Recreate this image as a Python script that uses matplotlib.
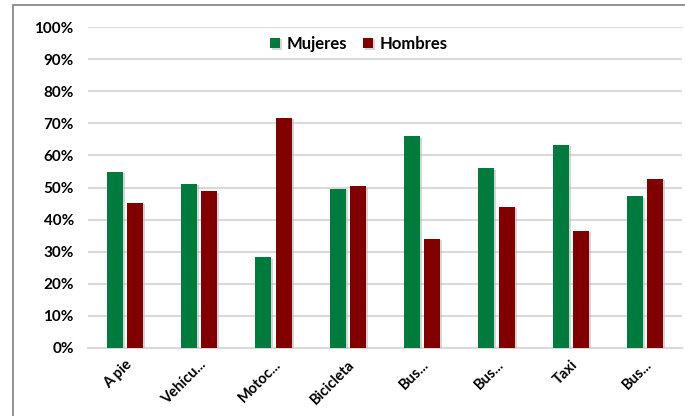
import numpy as np
import matplotlib
matplotlib.use("Agg")
import matplotlib.pyplot as plt
import matplotlib.patheffects as pe
from matplotlib.patches import Rectangle
from matplotlib.ticker import PercentFormatter

categorias = ["A pie", "Vehícu...", "Motoc...", "Bicicleta", "Bus...", "Bus...", "Taxi", "Bus..."]
mujeres = [54.8, 51.2, 28.3, 49.6, 66.0, 56.0, 63.4, 47.2]
hombres = [45.2, 48.8, 71.7, 50.4, 34.0, 44.0, 36.6, 52.8]

verde = "#007A3D"
rojo = "#800000"

plt.rcParams["font.family"] = ["Lato", "DejaVu Sans"]
plt.rcParams["font.weight"] = "bold"

fig = plt.figure(figsize=(6.85, 4.16), dpi=100)
ax = fig.add_axes([0.128, 0.1635, 0.868, 0.7715])

# marco exterior del grafico
fig.patches.append(Rectangle((0.019, -0.1), 1.2, 1.088, transform=fig.transFigure,
                             fill=False, edgecolor="#7f7f7f", linewidth=1.2))

x = np.arange(len(categorias))
w = 0.215
sombra = [pe.SimplePatchShadow(offset=(1.5, -1), shadow_rgbFace="#bbbbbb", alpha=0.6), pe.Normal()]
b1 = ax.bar(x - w / 2 - 0.03, mujeres, w, color=verde, label="Mujeres", zorder=3)
b2 = ax.bar(x + w / 2 + 0.03, hombres, w, color=rojo, label="Hombres", zorder=3)
for b in list(b1) + list(b2):
    b.set_path_effects(sombra)

ax.set_xlim(-0.5, len(categorias) - 0.5)
ax.set_ylim(0, 100)
ax.set_yticks(np.arange(0, 101, 10))
ax.yaxis.set_major_formatter(PercentFormatter(decimals=0))
ax.grid(axis="y", color="#d9d9d9", linewidth=1.5, zorder=0)
ax.set_axisbelow(True)
for s in ["top", "right", "left"]:
    ax.spines[s].set_visible(False)
ax.spines["bottom"].set_color("#d9d9d9")
ax.spines["bottom"].set_linewidth(1.5)
ax.tick_params(axis="y", length=0, pad=10, labelsize=11)
ax.tick_params(axis="x", length=0, pad=7, labelsize=10.5)
ax.set_xticks(x)
ax.set_xticklabels(categorias, rotation=45, ha="right", rotation_mode="anchor")

ax.legend(loc="center", bbox_to_anchor=(0.456, 0.947), ncol=2, frameon=False,
          handlelength=0.6, handleheight=0.6, handletextpad=0.4, columnspacing=1.0,
          prop={"size": 12, "weight": "bold"})

fig.savefig("out.png", dpi=100)
